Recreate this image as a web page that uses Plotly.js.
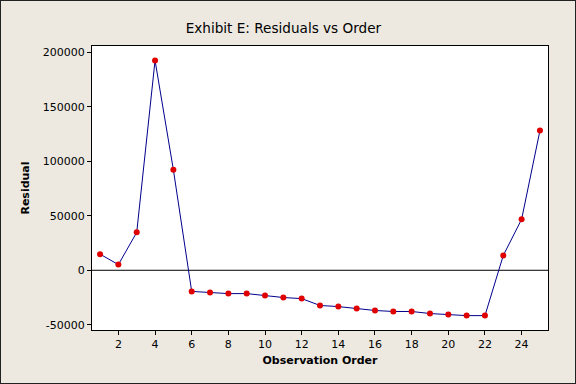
<!DOCTYPE html>
<html>
<head>
<meta charset="utf-8">
<script src="https://cdn.plot.ly/plotly-3.0.1.min.js"></script>
<style>
html,body{margin:0;padding:0;background:#EDE9E0;}
#chart{width:574px;height:382px;border:1px solid #222;}
</style>
</head>
<body>
<div id="chart"></div>
<script>
const order = [1,2,3,4,5,6,7,8,9,10,11,12,13,14,15,16,17,18,19,20,21,22,23,24,25];
const residual = [14800, 5200, 34800, 192500, 92200, -19400, -20400, -21400, -21400, -23200,
  -25000, -26000, -32300, -33300, -35100, -36900, -37800, -37800, -39700, -40600,
  -41600, -41600, 13600, 46800, 128200];
const xTicks = [2,4,6,8,10,12,14,16,18,20,22,24];
const yTicks = [-50000, 0, 50000, 100000, 150000, 200000];

const trace = {
  x: order, y: residual, type: 'scatter', mode: 'lines+markers',
  line: {color: '#00008B', width: 1},
  marker: {color: '#E00000', size: 6},
  hoverinfo: 'none'
};
const layout = {
  width: 574, height: 382,
  paper_bgcolor: '#EDE9E0', plot_bgcolor: '#FFFFFF',
  margin: {l: 91, r: 27, t: 45, b: 53},
  showlegend: false,
  font: {family: 'DejaVu Sans, Verdana, sans-serif', color: '#000', size: 11},
  title: {text: 'Exhibit E: Residuals vs Order', font: {size: 13.6, color: '#000'},
          x: 0.492, xref: 'container', xanchor: 'center', y: 0.93, yref: 'container', yanchor: 'middle'},
  xaxis: {
    range: [0.56, 25.44], tickvals: xTicks, ticktext: xTicks.map(String),
    ticks: 'outside', ticklen: 4, tickcolor: '#000', showgrid: false, zeroline: false,
    showline: true, linecolor: '#000', linewidth: 1, mirror: true,
    tickfont: {size: 11},
    title: {text: '<b>Observation Order</b>', font: {size: 11}, standoff: 6}
  },
  yaxis: {
    range: [-54800, 205800], tickvals: yTicks, ticktext: yTicks.map(String),
    ticks: 'outside', ticklen: 4, tickcolor: '#000', showgrid: false, zeroline: false,
    showline: true, linecolor: '#000', linewidth: 1, mirror: true,
    tickfont: {size: 11},
    title: {text: '<b>Residual</b>', font: {size: 11}, standoff: 10}
  },
  shapes: [{type: 'line', xref: 'paper', x0: 0, x1: 1, yref: 'y', y0: 0, y1: 0,
            line: {color: '#000', width: 1}, layer: 'below'}]
};
Plotly.newPlot('chart', [trace], layout, {displayModeBar: false, staticPlot: true});
</script>
</body>
</html>
